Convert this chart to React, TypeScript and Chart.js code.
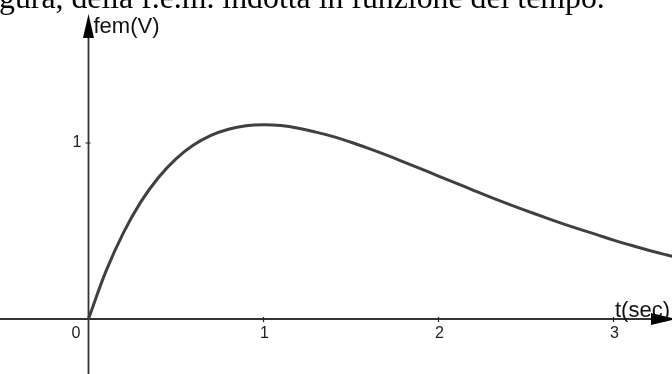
import React, { useEffect, useRef } from 'react';
import { Chart, registerables } from 'chart.js';

Chart.register(...registerables);

// Time (s) and induced emf (V)
const tValues = [0, 0.1, 0.2, 0.3, 0.4, 0.5, 0.6, 0.7, 0.8, 0.9, 1.0, 1.1, 1.2, 1.3, 1.4, 1.5, 1.6, 1.7, 1.8, 1.9, 2.0, 2.1, 2.2, 2.3, 2.4, 2.5, 2.6, 2.7, 2.8, 2.9, 3.0, 3.1, 3.2, 3.3, 3.4];
const femValues = [0, 0.272, 0.491, 0.667, 0.804, 0.910, 0.988, 1.043, 1.078, 1.098, 1.104, 1.099, 1.084, 1.062, 1.036, 1.004, 0.969, 0.932, 0.893, 0.853, 0.812, 0.772, 0.731, 0.691, 0.653, 0.616, 0.580, 0.545, 0.512, 0.481, 0.448, 0.419, 0.391, 0.365, 0.340];

const xTicks = [0, 1, 2, 3];
const xTickLabels = ['0', '1', '2', '3'];
const yTicks = [1];
const yTickLabels = ['1'];
const xAxisTitle = 't(sec)';
const yAxisTitle = 'fem(V)';
const captionText = 'gura, della f.e.m. indotta in funzione del tempo.';

const W = 672;
const H = 374;

const axesPlugin = {
  id: 'geoAxes',
  beforeDatasetsDraw(chart: any) {
    const { ctx, scales } = chart;
    const xs = scales.x;
    const ys = scales.y;
    const x0 = xs.getPixelForValue(0);
    const y0 = ys.getPixelForValue(0);
    ctx.save();
    ctx.strokeStyle = '#333';
    ctx.lineWidth = 1.8;
    ctx.beginPath();
    ctx.moveTo(0, y0);
    ctx.lineTo(655, y0);
    ctx.moveTo(x0, chart.height);
    ctx.lineTo(x0, 36);
    ctx.stroke();
    // tick marks
    ctx.lineWidth = 1.2;
    ctx.strokeStyle = '#222';
    ctx.beginPath();
    xTicks.forEach((v) => {
      if (v === 0) return;
      const px = xs.getPixelForValue(v);
      ctx.moveTo(px, y0 - 2);
      ctx.lineTo(px, y0 + 3);
    });
    yTicks.forEach((v) => {
      const py = ys.getPixelForValue(v);
      ctx.moveTo(x0 - 3, py);
      ctx.lineTo(x0 + 2, py);
    });
    ctx.stroke();
    ctx.restore();
  },
  afterDraw(chart: any) {
    const { ctx, scales } = chart;
    const xs = scales.x;
    const ys = scales.y;
    const x0 = xs.getPixelForValue(0);
    const y0 = ys.getPixelForValue(0);
    ctx.save();
    // arrows
    ctx.fillStyle = '#000';
    ctx.beginPath();
    ctx.moveTo(x0, 14);
    ctx.lineTo(x0 - 5.5, 38);
    ctx.lineTo(x0 + 5.5, 38);
    ctx.closePath();
    ctx.fill();
    ctx.beginPath();
    ctx.moveTo(676, y0);
    ctx.lineTo(651, y0 - 6);
    ctx.lineTo(651, y0 + 6);
    ctx.closePath();
    ctx.fill();
    // tick labels
    ctx.fillStyle = '#222';
    ctx.font = '16px "Liberation Sans", Arial, sans-serif';
    ctx.textAlign = 'center';
    ctx.textBaseline = 'middle';
    xTicks.forEach((v, i) => {
      const px = xs.getPixelForValue(v);
      const lx = v === 0 ? px - 12.5 : px + 1;
      ctx.fillText(xTickLabels[i], lx, y0 + 15);
    });
    yTicks.forEach((v, i) => {
      const py = ys.getPixelForValue(v);
      ctx.fillText(yTickLabels[i], x0 - 11.5, py);
    });
    // axis titles
    ctx.fillStyle = '#111';
    ctx.font = '22px "Liberation Sans", Arial, sans-serif';
    ctx.textAlign = 'left';
    ctx.textBaseline = 'alphabetic';
    ctx.fillText(yAxisTitle, x0 + 5, 33);
    ctx.fillText(xAxisTitle, 615, y0 - 2);
    ctx.restore();
  },
};

export default function App() {
  const canvasRef = useRef<HTMLCanvasElement | null>(null);

  useEffect(() => {
    const canvas = canvasRef.current;
    if (!canvas) return;
    const chart = new Chart(canvas, {
      type: 'line',
      data: {
        datasets: [
          {
            data: tValues.map((t, i) => ({ x: t, y: femValues[i] })),
            borderColor: '#404040',
            borderWidth: 3,
            pointRadius: 0,
            fill: false,
            tension: 0.4,
          },
        ],
      },
      options: {
        responsive: false,
        animation: false,
        layout: { padding: 0 },
        plugins: {
          legend: { display: false },
          tooltip: { enabled: false },
          title: { display: false },
        },
        scales: {
          x: { type: 'linear', display: false, min: -88.5 / 175, max: (W - 88.5) / 175 },
          y: { type: 'linear', display: false, min: -(H - 319) / 176, max: 319 / 176 },
        },
      },
      plugins: [axesPlugin],
    } as any);
    return () => chart.destroy();
  }, []);

  return (
    <div style={{ position: 'fixed', left: 0, top: 0, width: W, height: H, background: '#fff', overflow: 'hidden' }}>
      <canvas ref={canvasRef} width={W} height={H} style={{ position: 'absolute', left: 0, top: 0, width: W, height: H }} />
      <div
        style={{
          position: 'absolute',
          left: -1,
          top: -18,
          fontFamily: '"Liberation Serif", "Times New Roman", serif',
          fontSize: 31.8,
          lineHeight: '31px',
          whiteSpace: 'nowrap',
          color: '#000',
        }}
      >
        {captionText}
      </div>
    </div>
  );
}
